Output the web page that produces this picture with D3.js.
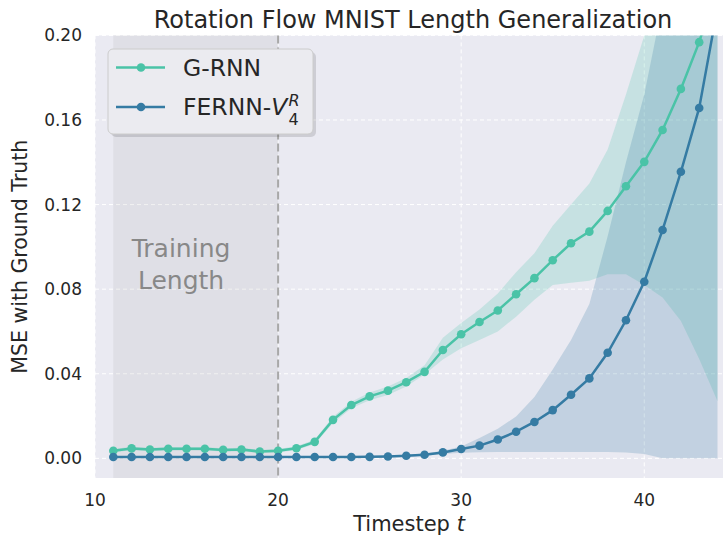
<!DOCTYPE html>
<html>
<head>
<meta charset="utf-8">
<script src="https://cdn.jsdelivr.net/npm/d3@7"></script>
<style>
  body { margin: 0; background: #ffffff; }
  text { font-family: "DejaVu Sans", sans-serif; fill: #262626; }
</style>
</head>
<body>
<svg id="chart"></svg>
<script>
// data
const timesteps = [11,12,13,14,15,16,17,18,19,20,21,22,23,24,25,26,27,28,29,30,31,32,33,34,35,36,37,38,39,40,41,42,43,44];

const grnnMean = [0.0036,0.0047,0.0042,0.0045,0.0045,0.0045,0.0040,0.0042,0.0032,0.0036,0.0048,0.0078,0.0182,0.0252,0.0293,0.0320,0.0360,0.0409,0.0512,0.0587,0.0645,0.0699,0.0776,0.0852,0.0937,0.1017,0.1072,0.1170,0.1287,0.1402,0.1553,0.1747,0.1968,0.2250];
const grnnLow  = [0.0028,0.0039,0.0034,0.0037,0.0037,0.0037,0.0032,0.0034,0.0024,0.0028,0.0039,0.0068,0.0167,0.0237,0.0275,0.0300,0.0340,0.0396,0.0467,0.0520,0.0560,0.0600,0.0670,0.0750,0.0820,0.0830,0.0840,0.0870,0.0870,0.0820,0.0760,0.0650,0.0470,0.0270];
const grnnHigh = [0.0044,0.0055,0.0050,0.0053,0.0053,0.0053,0.0048,0.0050,0.0040,0.0044,0.0057,0.0088,0.0197,0.0267,0.0311,0.0340,0.0380,0.0440,0.0570,0.0640,0.0704,0.0780,0.0880,0.0970,0.1100,0.1200,0.1300,0.1460,0.1720,0.2000,0.2350,0.2800,0.3300,0.3900];

const fernnMean = [0.0006,0.0006,0.0006,0.0006,0.0006,0.0006,0.0006,0.0006,0.0006,0.0006,0.0006,0.0006,0.0006,0.0006,0.0007,0.0009,0.0012,0.0017,0.0028,0.0044,0.0060,0.0089,0.0126,0.0172,0.0228,0.0301,0.0378,0.0499,0.0653,0.0835,0.1080,0.1355,0.1657,0.2130];
const fernnLow  = [0.0002,0.0002,0.0002,0.0002,0.0002,0.0002,0.0002,0.0002,0.0002,0.0002,0.0002,0.0002,0.0002,0.0002,0.0003,0.0005,0.0008,0.0012,0.0020,0.0026,0.0029,0.0030,0.0030,0.0030,0.0030,0.0030,0.0030,0.0030,0.0028,0.0020,0.0000,0.0000,0.0000,0.0000];
const fernnHigh = [0.0010,0.0010,0.0010,0.0010,0.0010,0.0010,0.0010,0.0010,0.0010,0.0010,0.0010,0.0010,0.0010,0.0010,0.0011,0.0013,0.0017,0.0023,0.0036,0.0056,0.0096,0.0140,0.0198,0.0290,0.0420,0.0560,0.0730,0.1050,0.1400,0.1720,0.2150,0.2700,0.3300,0.4000];

const xTicks = [10, 20, 30, 40];
const yTicks = [0, 0.04, 0.08, 0.12, 0.16, 0.20];
const trainingSpan = [11, 20];

const series = [
  { name: "G-RNN", mean: grnnMean, low: grnnLow, high: grnnHigh, color: "#4ac3a7" },
  { name: "FERNN", mean: fernnMean, low: fernnLow, high: fernnHigh, color: "#357ba3" }
];

const W = 723, H = 540;
const margin = { top: 35.4, right: 0, bottom: 62, left: 95 };
const width = W - margin.left - margin.right;
const height = H - margin.top - margin.bottom;

const svg = d3.select("#chart").attr("width", W).attr("height", H);

const x = d3.scaleLinear().domain([10, 44.3]).range([0, width]);
const y = d3.scaleLinear().domain([-0.0093, 0.2]).range([height, 0]);

const chart = svg.append("g").attr("transform", `translate(${margin.left},${margin.top})`);

svg.append("defs").append("clipPath").attr("id", "clip")
  .append("rect").attr("width", width).attr("height", height);

// background
chart.append("rect").attr("width", width).attr("height", height).attr("fill", "#eaeaf2");

// grid
chart.append("g").selectAll("line").data(xTicks).join("line")
  .attr("x1", d => x(d)).attr("x2", d => x(d)).attr("y1", 0).attr("y2", height)
  .attr("stroke", "#ffffff").attr("stroke-width", 1).attr("stroke-dasharray", "4,3");
chart.append("g").selectAll("line").data(yTicks).join("line")
  .attr("x1", 0).attr("x2", width).attr("y1", d => y(d)).attr("y2", d => y(d))
  .attr("stroke", "#ffffff").attr("stroke-width", 1).attr("stroke-dasharray", "4,3");

// training span
chart.append("rect")
  .attr("x", x(trainingSpan[0])).attr("width", x(trainingSpan[1]) - x(trainingSpan[0]))
  .attr("y", 0).attr("height", height)
  .attr("fill", "#a0a0a0").attr("opacity", 0.15);
chart.append("line")
  .attr("x1", x(trainingSpan[1])).attr("x2", x(trainingSpan[1])).attr("y1", 0).attr("y2", height)
  .attr("stroke", "#a8a8a8").attr("stroke-width", 2).attr("stroke-dasharray", "8,4");

chart.append("text")
  .attr("x", x(14.7)).attr("y", 221.5)
  .attr("text-anchor", "middle").style("font-size", "25px").style("fill", "#888888")
  .text("Training");
chart.append("text")
  .attr("x", x(14.7)).attr("y", 254)
  .attr("text-anchor", "middle").style("font-size", "25px").style("fill", "#888888")
  .text("Length");

const plot = chart.append("g").attr("clip-path", "url(#clip)");

const area = (s) => d3.area()
  .x((d, i) => x(timesteps[i]))
  .y0((d, i) => y(s.low[i]))
  .y1((d, i) => y(s.high[i]));

const line = (s) => d3.line()
  .x((d, i) => x(timesteps[i]))
  .y((d, i) => y(s.mean[i]));

series.forEach(s => {
  plot.append("path").datum(s.mean)
    .attr("fill", s.color).attr("opacity", 0.22)
    .attr("d", area(s));
});

series.forEach(s => {
  plot.append("path").datum(s.mean)
    .attr("fill", "none").attr("stroke", s.color).attr("stroke-width", 2.5)
    .attr("d", line(s));
  plot.append("g").selectAll("circle").data(s.mean).join("circle")
    .attr("cx", (d, i) => x(timesteps[i]))
    .attr("cy", d => y(d))
    .attr("r", 4.3)
    .attr("fill", s.color);
});

// tick labels
chart.append("g").selectAll("text").data(yTicks).join("text")
  .attr("x", -13).attr("y", d => y(d)).attr("dy", "0.35em")
  .attr("text-anchor", "end").style("font-size", "17px")
  .text(d => d3.format(".2f")(d));
chart.append("g").selectAll("text").data(xTicks).join("text")
  .attr("x", d => x(d)).attr("y", height + 28)
  .attr("text-anchor", "middle").style("font-size", "17px")
  .text(d => d);

// axis labels and title
const xl = svg.append("text")
  .attr("x", margin.left + width / 2).attr("y", 531)
  .attr("text-anchor", "middle").style("font-size", "21px");
xl.append("tspan").text("Timestep ");
xl.append("tspan").style("font-style", "italic").text("t");

svg.append("text")
  .attr("transform", `translate(27,${margin.top + height / 2}) rotate(-90)`)
  .attr("text-anchor", "middle").style("font-size", "20.5px")
  .text("MSE with Ground Truth");

svg.append("text")
  .attr("x", margin.left + width / 2 + 4).attr("y", 27.5)
  .attr("text-anchor", "middle").style("font-size", "24px")
  .text("Rotation Flow MNIST Length Generalization");

// legend
const lg = svg.append("g").attr("transform", "translate(108,49)");
lg.append("rect").attr("x", 3).attr("y", 3).attr("width", 205).attr("height", 85).attr("rx", 5)
  .attr("fill", "#000000").attr("opacity", 0.12);
lg.append("rect").attr("width", 205).attr("height", 85).attr("rx", 5)
  .attr("fill", "#ebebf0").attr("stroke", "#cccccc").attr("stroke-width", 1);

series.forEach((s, i) => {
  const ly = 18.5 + i * 39.5;
  lg.append("line").attr("x1", 8).attr("x2", 57).attr("y1", ly).attr("y2", ly)
    .attr("stroke", s.color).attr("stroke-width", 2.5);
  lg.append("circle").attr("cx", 33).attr("cy", ly).attr("r", 4.3).attr("fill", s.color);
  const t = lg.append("text").attr("x", 75).attr("y", ly).attr("dy", "0.35em").style("font-size", "23.5px");
  if (i === 0) {
    t.text(s.name);
  } else {
    t.append("tspan").text("FERNN-");
    t.append("tspan").style("font-style", "italic").text("V");
    t.append("tspan").attr("dx", 1).attr("dy", -9).style("font-size", "16px").style("font-style", "italic").text("R");
    t.append("tspan").attr("dx", -11).attr("dy", 19).style("font-size", "16px").text("4");
  }
});
</script>
</body>
</html>
